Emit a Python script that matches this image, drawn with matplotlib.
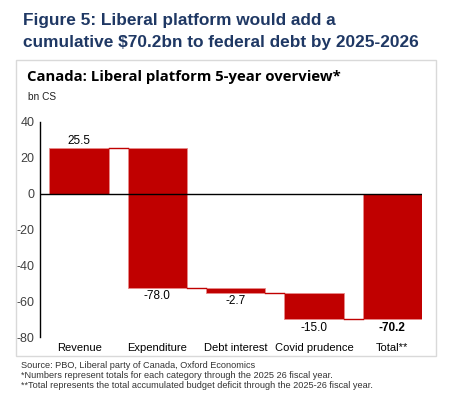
import numpy as np
import matplotlib
matplotlib.use("Agg")
import matplotlib.pyplot as plt
from matplotlib.patches import Rectangle

plt.rcParams["axes.unicode_minus"] = False

# data
categories = ["Revenue", "Expenditure", "Debt interest", "Covid prudence", "Total**"]
changes = [25.5, -78.0, -2.7, -15.0]
total = -70.2
value_labels = ["25.5", "-78.0", "-2.7", "-15.0", "-70.2"]

red = "#C00000"
navy = "#1F3864"

fig = plt.figure(figsize=(4.63, 3.98), dpi=100)

# white panel with light border
fig.patches.append(Rectangle((16 / 463, 1 - 356 / 398), 420 / 463, 296 / 398,
                             transform=fig.transFigure, facecolor="white",
                             edgecolor="#D9D9D9", lw=1, zorder=-5))

fig.text(23 / 463, 1 - 21 / 398, "Figure 5: Liberal platform would add a",
         fontsize=12.4, fontweight="bold", color=navy, family="Liberation Sans", va="center")
fig.text(23 / 463, 1 - 42 / 398, "cumulative $70.2bn to federal debt by 2025-2026",
         fontsize=12.4, fontweight="bold", color=navy, family="Liberation Sans", va="center")
fig.text(27 / 463, 1 - 77 / 398, "Canada: Liberal platform 5-year overview*",
         fontsize=10.7, fontweight="bold", color="black", family="Open Sans", va="center")
fig.text(28 / 463, 1 - 97 / 398, "bn CS", fontsize=7.3, color="#222222",
         family="Liberation Sans", va="center")

notes = ["Source: PBO, Liberal party of Canada, Oxford Economics",
         "*Numbers represent totals for each category through the 2025 26 fiscal year.",
         "**Total represents the total accumulated budget deficit through the 2025-26 fiscal year."]
for i, n in enumerate(notes):
    fig.text(21 / 463, 1 - (365 + i * 10.5) / 398, n, fontsize=6.6, color="#333333",
             family="Liberation Sans", va="center")

ax = fig.add_axes([40 / 463, 1 - 337 / 398, 382 / 463, 215 / 398])

# waterfall bars
x = np.arange(len(categories))
starts = []
ends = []
level = 0.0
for c in changes:
    starts.append(level)
    level += c
    ends.append(level)
starts.append(0.0)
ends.append(total)

w = 0.76
for i in range(len(categories)):
    lo = min(starts[i], ends[i])
    h = abs(ends[i] - starts[i])
    ax.bar(x[i], h, bottom=lo, width=w, color=red, edgecolor="#E88A8A", lw=0.6, zorder=2)

# connectors
for i in range(len(categories) - 1):
    ax.plot([x[i] + w / 2, x[i + 1] - w / 2], [ends[i], ends[i]], color=red, lw=1, zorder=2)

# value labels
for i in range(len(categories)):
    bold = "bold" if i == len(categories) - 1 else "normal"
    if ends[i] >= starts[i]:
        ax.annotate(value_labels[i], (x[i], ends[i]), xytext=(0, 1), textcoords="offset points",
                    ha="center", va="bottom", fontsize=8.5, family="Liberation Sans")
    else:
        ax.annotate(value_labels[i], (x[i], min(starts[i], ends[i])), xytext=(0, -1.5),
                    textcoords="offset points", ha="center", va="top", fontsize=8.5,
                    fontweight=bold, family="Liberation Sans")

ax.axhline(0, color="black", lw=1, zorder=3)
ax.set_xlim(-0.5, 4.38)
ax.set_ylim(-80, 40)
ax.set_yticks([40, 20, 0, -20, -40, -60, -80])
ax.set_xticks(x)
ax.set_xticklabels(categories)
for s in ["top", "right", "bottom"]:
    ax.spines[s].set_visible(False)
ax.spines["left"].set_linewidth(1)
ax.tick_params(length=0)
ax.tick_params(axis="y", labelsize=9, labelcolor="#404040", pad=4)
ax.tick_params(axis="x", labelsize=8, labelcolor="black", pad=4)
for t in ax.get_xticklabels() + ax.get_yticklabels():
    t.set_family("Liberation Sans")
ax.patch.set_alpha(0)

fig.savefig("out.png", dpi=100)
